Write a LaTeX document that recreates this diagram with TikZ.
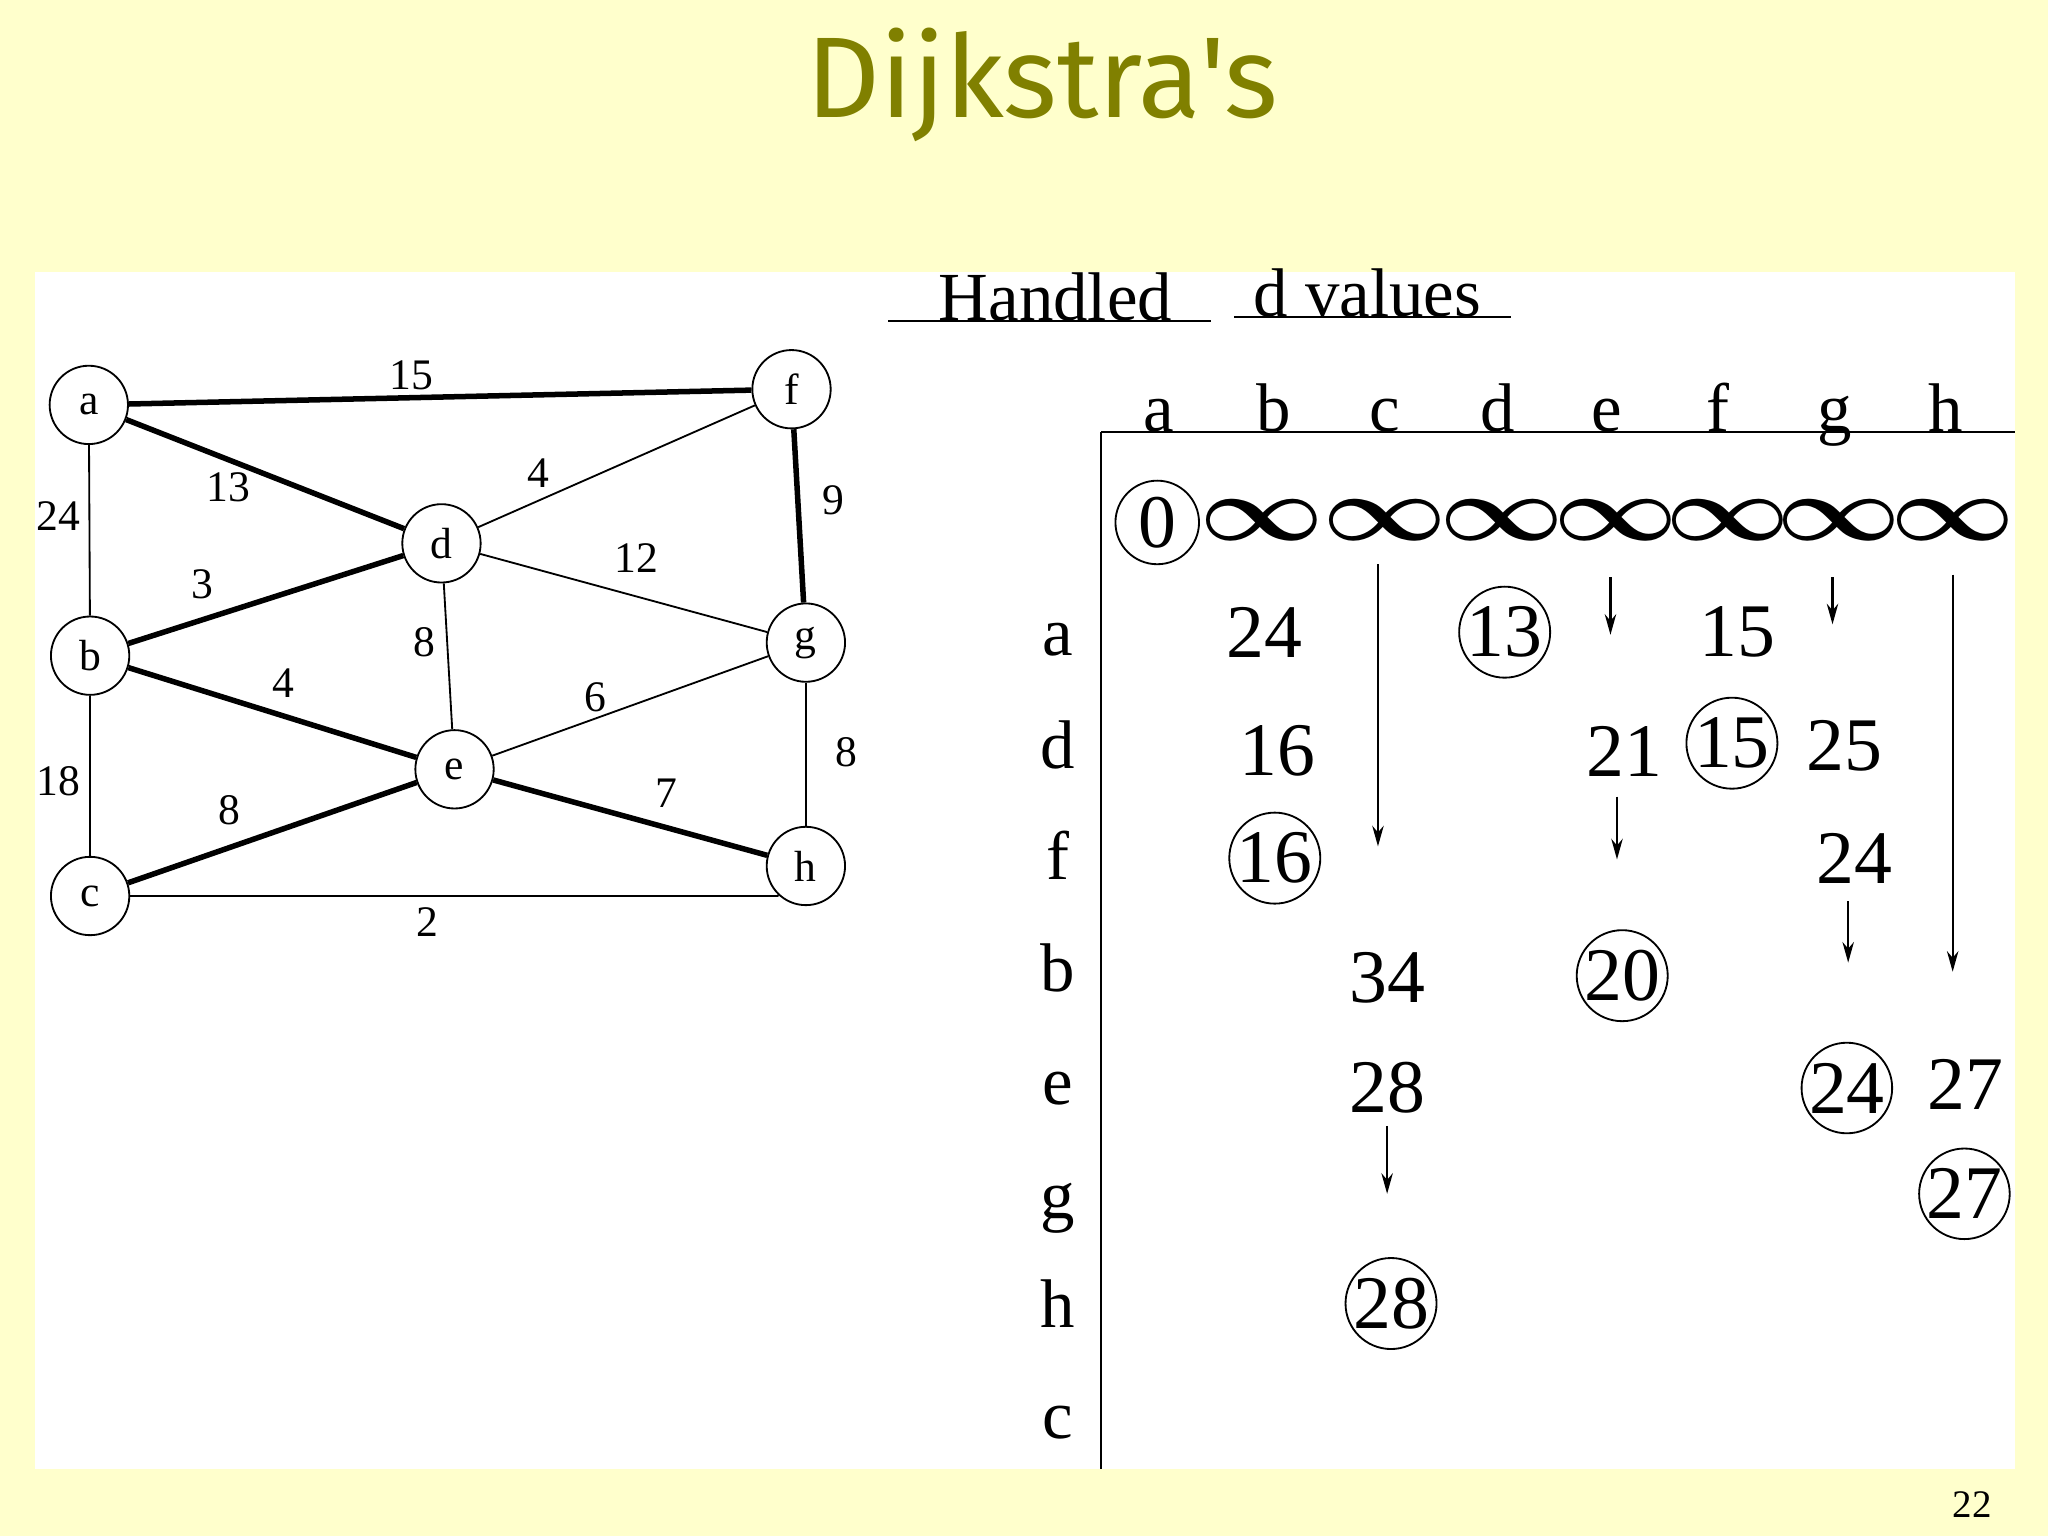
\documentclass[tikz,border=0pt]{standalone}
\usepackage{fontspec}
\setmainfont{Liberation Serif}
\newfontfamily\titlefont{Fira Sans}
\usetikzlibrary{arrows.meta}
\definecolor{bgy}{HTML}{FFFFCC}
\definecolor{olive}{HTML}{808000}
\begin{document}
\begin{tikzpicture}[x=0.02cm,y=-0.02cm,
  vtx/.style={circle,draw,line width=0.8pt,fill=white,minimum size=1.2cm,inner sep=0pt,font=\fontsize{19}{20}\selectfont},
  thin/.style={line width=0.8pt},
  thick2/.style={line width=2.4pt},
  wl/.style={font=\fontsize{19}{20}\selectfont},
  tv/.style={font=\fontsize{33}{34}\selectfont,inner sep=0pt},
  cv/.style={tv,circle,draw,line width=0.8pt,minimum size=1.28cm},
  hd/.style={font=\fontsize{30}{31}\selectfont,inner sep=0pt},
  arr/.style={line width=0.9pt,-{Stealth[length=9pt,width=5pt]}}]
\fill[bgy] (0,0) rectangle (1568,1176);
\fill[white] (27,208) rectangle (1543,1125);
\node[font=\titlefont\fontsize{50}{52}\selectfont,text=olive] (title) at (798,65) {Dijkstra's};
% graph
\node[vtx] (a) at (68,310) {a};
\node[vtx] (f) at (606,298) {f};
\node[vtx] (d) at (338,416) {d};
\node[vtx] (b) at (69,502) {b};
\node[vtx] (g) at (617,492) {g};
\node[vtx] (e) at (348,589) {e};
\node[vtx] (c) at (69,686) {c};
\node[vtx] (h) at (617,663) {h};
\draw[thick2] (a) -- (f);
\draw[thick2] (a) -- (d);
\draw[thin] (a) -- (b);
\draw[thin] (f) -- (d);
\draw[thick2] (f) -- (g);
\draw[thick2] (d) -- (b);
\draw[thin] (d) -- (g);
\draw[thin] (d) -- (e);
\draw[thick2] (b) -- (e);
\draw[thin] (e) -- (g);
\draw[thin] (b) -- (c);
\draw[thick2] (c) -- (e);
\draw[thick2] (e) -- (h);
\draw[thin] (g) -- (h);
\draw[thin] (c.east) -- (c.east -| h.south west) -- (h);
\node[wl] (l1) at (315,287) {15};
\node[wl] (l2) at (175,373) {13};
\node[wl] (l3) at (45,395) {24};
\node[wl] (l4) at (412,362) {4};
\node[wl] (l5) at (638,383) {9};
\node[wl] (l6) at (155,447) {3};
\node[wl] (l7) at (487,427) {12};
\node[wl] (l8) at (325,492) {8};
\node[wl] (l9) at (217,523) {4};
\node[wl] (l10) at (456,534) {6};
\node[wl] (l11) at (45,598) {18};
\node[wl] (l12) at (176,620) {8};
\node[wl] (l13) at (510,607) {7};
\node[wl] (l14) at (648,576) {8};
\node[wl] (l15) at (327,706) {2};
% table
\node[hd,anchor=base] (hand) at (808,245) {Handled};
\node[hd,anchor=base] (dval) at (1047,242) {d values};
\draw[thin] (680,246) -- (927,246);
\draw[thin] (945,243) -- (1157,243);
\foreach \n/\x in {a/887,b/975,c/1060,d/1147,e/1230,f/1315,g/1405,h/1490}
  \node[hd,anchor=base] (H\n) at (\x,330) {\n};
\draw[thin] (843,331) -- (1543,331);
\draw[thin] (843,331) -- (843,1125);
\foreach \n/\y in {a/502,d/588,f/673,b/759,e/846,g/933,h/1016,c/1101}
  \node[hd,anchor=base] (R\n) at (810,\y) {\n};
\node[cv] (z0) at (886,400) {0};
\foreach \i/\x in {1/966,2/1060,3/1150,4/1237,5/1323,6/1408,7/1495}
  \node[tv] (inf\i) at (\x,398) {\scalebox{1.9}[1.6]{\boldmath$\infty$}};
\node[tv] (v1) at (968,484) {24};
\node[cv] (v2) at (1152,484) {13};
\node[tv] (v3) at (1330,484) {15};
\node[tv] (v4) at (978,575) {16};
\node[tv] (v5) at (1244,575) {21};
\node[cv] (v6) at (1326,569) {15};
\node[tv] (v7) at (1412,571) {25};
\node[cv] (v8) at (976,657) {16};
\node[tv] (v9) at (1420,657) {24};
\node[tv] (v10) at (1062,749) {34};
\node[cv] (v11) at (1242,747) {20};
\node[tv] (v12) at (1062,833) {28};
\node[cv] (v13) at (1414,833) {24};
\node[tv] (v14) at (1505,830) {27};
\node[cv] (v15) at (1504,914) {27};
\node[cv] (v16) at (1065,998) {28};
\coordinate (s1) at (1055,432); \coordinate (t1) at (1055,648);
\coordinate (s2) at (1233,442); \coordinate (t2) at (1233,486);
\coordinate (s3) at (1403,442); \coordinate (t3) at (1403,478);
\coordinate (s4) at (1495,440); \coordinate (t4) at (1495,744);
\coordinate (s5) at (1238,610); \coordinate (t5) at (1238,658);
\coordinate (s6) at (1415,690); \coordinate (t6) at (1415,737);
\coordinate (s7) at (1062,862); \coordinate (t7) at (1062,914);
\foreach \k in {1,...,7} \draw[arr] (s\k) -- (t\k);
\node[font=\fontsize{17}{18}\selectfont] (pg) at (1510,1152) {22};
\end{tikzpicture}
\end{document}
